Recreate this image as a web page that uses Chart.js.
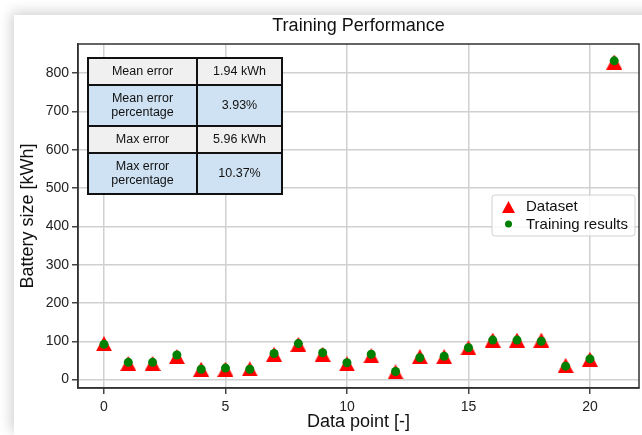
<!DOCTYPE html>
<html>
<head>
<meta charset="utf-8">
<script src="https://cdn.jsdelivr.net/npm/chart.js@4/dist/chart.umd.min.js"></script>
<style>
  html, body { margin: 0; padding: 0; background: #fff; overflow: hidden; width: 642px; height: 435px; }
  #card { position: absolute; left: 14px; top: 15px; width: 656px; height: 420px; background: #fff;
          box-shadow: -3px -3px 12px rgba(0,0,0,0.18); }
  canvas { display: block; }
</style>
</head>
<body>
<div id="card"><canvas id="chart" width="656" height="420"></canvas></div>
<script>
// data
const points = [0, 1, 2, 3, 4, 5, 6, 7, 8, 9, 10, 11, 12, 13, 14, 15, 16, 17, 18, 19, 20, 21];
const datasetValues = [94, 42, 42, 60, 27, 27, 28, 66, 92, 66, 41, 62, 20, 60, 60, 83, 103, 103, 103, 37, 53, 829];
const trainingValues = [92, 45, 45, 64, 27, 30, 27, 68, 94, 70, 44, 66, 21, 57, 61, 83, 103, 103, 100, 35, 54, 832];
const xTicks = [0, 5, 10, 15, 20];
const yTicks = [0, 100, 200, 300, 400, 500, 600, 700, 800];

const tableRows = [
  [['Mean error'], ['1.94 kWh']],
  [['Mean error', 'percentage'], ['3.93%']],
  [['Max error'], ['5.96 kWh']],
  [['Max error', 'percentage'], ['10.37%']]
];

const FONT = "'Liberation Sans', Arial, sans-serif";

// triangle marker centred on its bounding box (like matplotlib '^')
function makeTriangle(w, h) {
  const c = document.createElement('canvas');
  c.width = w; c.height = h;
  const g = c.getContext('2d');
  g.fillStyle = '#ff0000';
  g.beginPath();
  g.moveTo(w / 2, 0);
  g.lineTo(w, h);
  g.lineTo(0, h);
  g.closePath();
  g.fill();
  return c;
}
const triMarker = makeTriangle(16, 15);
const triLegend = makeTriangle(13, 12);

const extras = {
  id: 'extras',
  afterDraw(chart) {
    const ctx = chart.ctx;
    const a = chart.chartArea;
    ctx.save();

    // frame round plot
    ctx.strokeStyle = '#333';
    ctx.lineWidth = 1.5;
    ctx.strokeRect(a.left, a.top, a.right - a.left, a.bottom - a.top);

    // title
    ctx.fillStyle = '#111';
    ctx.font = '18px ' + FONT;
    ctx.textAlign = 'center';
    ctx.textBaseline = 'middle';
    ctx.fillText('Training Performance', (a.left + a.right) / 2, 11);

    // stats table
    const tx = a.left + 10, ty = a.top + 14;
    const colW = [109, 85];
    const rowH = [27, 41, 27, 41];
    let y = ty;
    ctx.font = '12.5px ' + FONT;
    rowH.forEach((h, r) => {
      ctx.fillStyle = r % 2 === 0 ? '#f0f0f0' : '#cfe2f3';
      ctx.fillRect(tx, y, colW[0] + colW[1], h);
      let x = tx;
      tableRows[r].forEach((lines, c) => {
        ctx.fillStyle = '#111';
        const cx = x + colW[c] / 2, cy = y + h / 2;
        lines.forEach((t, i) => {
          ctx.fillText(t, cx, cy + (i - (lines.length - 1) / 2) * 14);
        });
        x += colW[c];
      });
      y += h;
    });
    ctx.strokeStyle = '#111';
    ctx.lineWidth = 2;
    ctx.strokeRect(tx, ty, colW[0] + colW[1], y - ty);
    ctx.beginPath();
    ctx.moveTo(tx + colW[0], ty);
    ctx.lineTo(tx + colW[0], y);
    let yy = ty;
    rowH.slice(0, -1).forEach(h => {
      yy += h;
      ctx.moveTo(tx, yy);
      ctx.lineTo(tx + colW[0] + colW[1], yy);
    });
    ctx.stroke();

    // legend
    const lx = 478, ly = 180, lw = 143, lh = 41;
    ctx.fillStyle = 'rgba(255,255,255,0.85)';
    ctx.strokeStyle = '#d0d0d0';
    ctx.lineWidth = 1;
    ctx.beginPath();
    ctx.roundRect(lx, ly, lw, lh, 3);
    ctx.fill();
    ctx.stroke();
    ctx.drawImage(triLegend, lx + 10, ly + 6);
    ctx.fillStyle = '#008000';
    ctx.beginPath();
    ctx.arc(lx + 16.5, ly + 29, 3.5, 0, Math.PI * 2);
    ctx.fill();
    ctx.fillStyle = '#111';
    ctx.font = '15px ' + FONT;
    ctx.textAlign = 'left';
    ctx.fillText(chart.data.datasets[0].label, lx + 34, ly + 12);
    ctx.fillText(chart.data.datasets[1].label, lx + 34, ly + 30);

    ctx.restore();
  }
};

new Chart(document.getElementById('chart'), {
  type: 'scatter',
  data: {
    datasets: [{
      label: 'Dataset',
      data: points.map((p, i) => ({ x: p, y: datasetValues[i] })),
      pointStyle: triMarker,
      pointRadius: 8,
      backgroundColor: '#ff0000',
      order: 2
    }, {
      label: 'Training results',
      data: points.map((p, i) => ({ x: p, y: trainingValues[i] })),
      pointStyle: 'circle',
      pointRadius: 4.5,
      borderWidth: 0,
      backgroundColor: '#008000',
      order: 1
    }]
  },
  options: {
    responsive: false,
    devicePixelRatio: 1,
    animation: false,
    layout: { padding: { left: 0, top: 29, right: 31, bottom: 0 } },
    plugins: {
      legend: { display: false },
      title: { display: false },
      tooltip: { enabled: false }
    },
    scales: {
      x: {
        type: 'linear',
        min: -1.07,
        max: 22.02,
        afterBuildTicks: s => { s.ticks = xTicks.map(v => ({ value: v })); },
        afterFit: s => { s.height = 47; },
        grid: { color: '#d0d0d0', lineWidth: 1.5, tickColor: '#444', tickLength: 6 },
        border: { color: '#333', width: 1.5 },
        ticks: { color: '#222', font: { family: FONT, size: 14 }, padding: 5, maxRotation: 0 },
        title: { display: true, text: 'Data point [-]', color: '#111', font: { family: FONT, size: 18 }, padding: { top: 0, bottom: 2 } }
      },
      y: {
        min: -22,
        max: 876,
        afterBuildTicks: s => { s.ticks = yTicks.map(v => ({ value: v })); },
        afterFit: s => { s.width = 64; },
        grid: { color: '#d0d0d0', lineWidth: 1.5, tickColor: '#444', tickLength: 6 },
        border: { color: '#333', width: 1.5 },
        ticks: { color: '#222', font: { family: FONT, size: 14 }, padding: 3 },
        title: { display: true, text: 'Battery size [kWh]', color: '#111', font: { family: FONT, size: 18 }, padding: { top: 3, bottom: 0 } }
      }
    }
  },
  plugins: [extras]
});
</script>
</body>
</html>
